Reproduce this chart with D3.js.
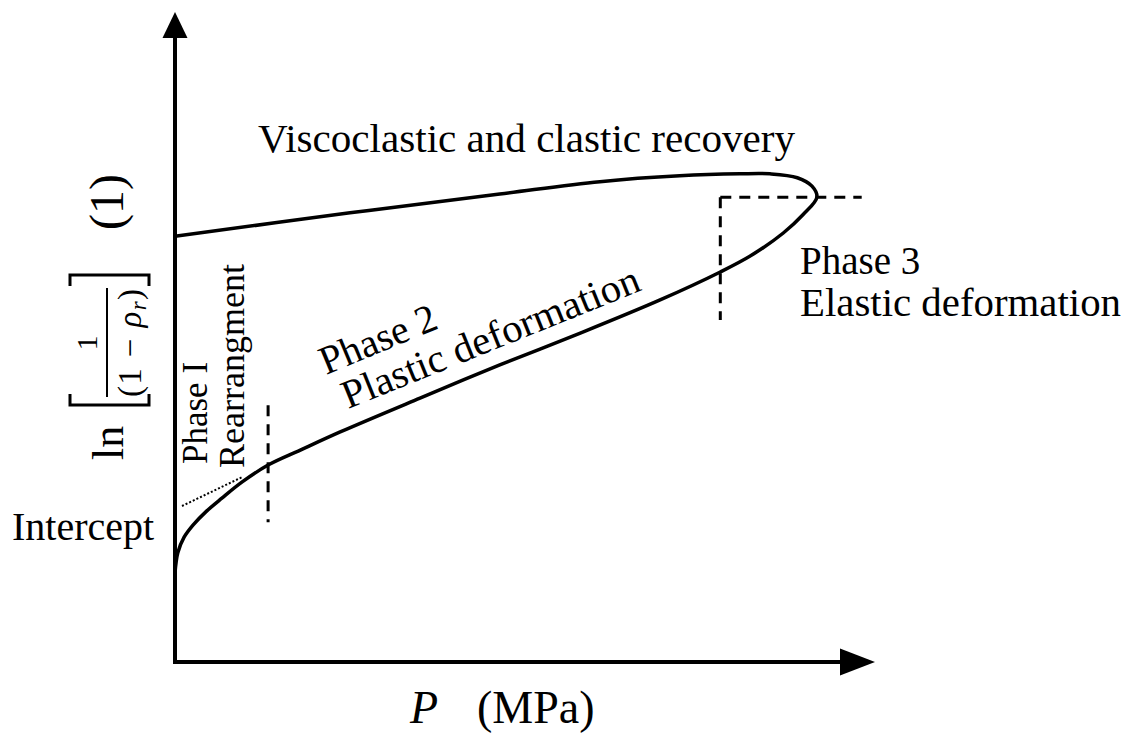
<!DOCTYPE html>
<html><head><meta charset="utf-8">
<script src="https://cdn.jsdelivr.net/npm/d3@7"></script>
<style>html,body{margin:0;padding:0;background:#fff;} svg{display:block;}</style>
</head><body>
<svg id="chart" width="1136" height="735"></svg>
<script>
// ---- data (abstract units: P 0..100, ln[1/(1-rho)] 0..100) ----
const loadingP = [0, 0.4, 1.3, 2.6, 4.4, 6.7, 9.6, 13.3, 17.9, 23.6, 35.0, 46.4, 57.9, 69.3, 77.9, 82.4, 86.9, 89.7, 91.7];
const loadingY = [13.7, 16.8, 19.2, 21.1, 23.1, 25.2, 27.7, 30.3, 32.6, 35.4, 40.6, 45.7, 50.6, 55.7, 60.0, 62.6, 66.0, 68.8, 71.5];
const unloadingP = [91.0, 88.9, 85.0, 80.7, 72.1, 60.7, 46.4, 25.0, 0];
const unloadingY = [73.2, 74.5, 75.1, 75.1, 74.8, 73.9, 72.0, 69.1, 65.5];
const interceptP = [1.0, 9.7];
const interceptY = [24.0, 28.5];
const boundaryP = [13.3, 77.9];
const boundaryYLow = [21.5, 52.6];
const boundaryYHigh = [39.5, 71.5];
const elasticLimitP = [77.9, 98.1];
const elasticLimitY = [71.5, 71.5];

const svg = d3.select("#chart");
const x = d3.scaleLinear().domain([0, 100]).range([175, 875]);
const y = d3.scaleLinear().domain([0, 100]).range([662, 12]);
const FONT = "'Liberation Serif','Times New Roman',serif";

// axes
svg.append("line").attr("x1", x(0)).attr("y1", y(0)).attr("x2", x(0)).attr("y2", y(96))
  .attr("stroke", "#000").attr("stroke-width", 4);
svg.append("path").attr("d", `M${x(0)},${y(100)} L${x(0)-12.5},${y(96)} L${x(0)+12.5},${y(96)} Z`).attr("fill", "#000");
svg.append("line").attr("x1", x(0)-2).attr("y1", y(0)).attr("x2", x(95)).attr("y2", y(0))
  .attr("stroke", "#000").attr("stroke-width", 4);
svg.append("path").attr("d", `M${x(100)},${y(0)} L${x(95)},${y(0)-13.5} L${x(95)},${y(0)+13.5} Z`).attr("fill", "#000");

// curve
const pts = loadingP.map((p, i) => [p, loadingY[i]]).concat(unloadingP.map((p, i) => [p, unloadingY[i]]));
const line = d3.line().x(d => x(d[0])).y(d => y(d[1])).curve(d3.curveCatmullRom.alpha(0.5));
svg.append("path").attr("d", line(pts)).attr("fill", "none").attr("stroke", "#000").attr("stroke-width", 3.5)
  .attr("stroke-linejoin", "round");

// intercept extrapolation (dotted)
svg.append("line").attr("x1", x(interceptP[0])).attr("y1", y(interceptY[0]))
  .attr("x2", x(interceptP[1])).attr("y2", y(interceptY[1]))
  .attr("stroke", "#000").attr("stroke-width", 2).attr("stroke-dasharray", "2,2");

// phase boundaries (dashed)
boundaryP.forEach((p, i) => {
  svg.append("line").attr("x1", x(p)).attr("y1", y(boundaryYHigh[i])).attr("x2", x(p)).attr("y2", y(boundaryYLow[i]))
    .attr("stroke", "#000").attr("stroke-width", 3).attr("stroke-dasharray", "11,8");
});
svg.append("line").attr("x1", x(elasticLimitP[0])).attr("y1", y(elasticLimitY[0]))
  .attr("x2", x(elasticLimitP[1])).attr("y2", y(elasticLimitY[1]))
  .attr("stroke", "#000").attr("stroke-width", 3).attr("stroke-dasharray", "11,8");

// text labels
function txt(t, px, py, size, opts = {}) {
  const e = svg.append("text").attr("x", px).attr("y", py).attr("font-family", FONT)
    .attr("font-size", size).attr("fill", "#000").text(t);
  if (opts.rotate !== undefined) e.attr("transform", `rotate(${opts.rotate},${px},${py})`);
  if (opts.anchor) e.attr("text-anchor", opts.anchor);
  if (opts.len) e.attr("textLength", opts.len).attr("lengthAdjust", "spacingAndGlyphs");
  return e;
}
txt("Viscoclastic and clastic recovery", 258, 152, 40, {len: 537});
txt("Phase 3", 800, 274, 39);
txt("Elastic deformation", 800, 316, 39, {len: 321});
txt("Intercept", 12, 540, 40);
txt("Phase 2", 326, 375, 40, {rotate: -22.5});
txt("Plastic deformation", 348, 409, 40, {rotate: -22, len: 318});
txt("Phase I", 207, 464, 35, {rotate: -90});
txt("Rearrangment", 244, 468, 36, {rotate: -90});

// x-axis title
const xt = svg.append("text").attr("y", 723).attr("font-family", FONT).attr("font-size", 46).attr("fill", "#000");
xt.append("tspan").attr("x", 410).attr("font-style", "italic").text("P");
xt.append("tspan").attr("x", 477).text("(MPa)");

// y-axis title (rotated)
txt("ln", 123, 460, 44, {rotate: -90});
txt("(1)", 123, 230, 48, {rotate: -90});
txt("1", 97, 343, 30, {rotate: -90, anchor: "middle"});
const den = svg.append("text").attr("x", 141).attr("y", 397).attr("font-family", FONT).attr("font-size", 33)
  .attr("fill", "#000").attr("transform", "rotate(-90,141,397)")
  .attr("textLength", 108).attr("lengthAdjust", "spacing");
den.append("tspan").text("(1 − ");
den.append("tspan").attr("font-style", "italic").text("ρ");
den.append("tspan").attr("font-style", "italic").attr("font-size", 23).attr("dy", 5).text("r");
den.append("tspan").attr("dy", -5).text(")");
// fraction bar and brackets
svg.append("line").attr("x1", 107).attr("y1", 288).attr("x2", 107).attr("y2", 397).attr("stroke", "#000").attr("stroke-width", 2);
svg.append("path").attr("d", "M70,394 L70,405 L149,405 L149,394").attr("fill", "none").attr("stroke", "#000").attr("stroke-width", 3);
svg.append("path").attr("d", "M70,286 L70,275 L149,275 L149,286").attr("fill", "none").attr("stroke", "#000").attr("stroke-width", 3);
</script>
</body></html>
